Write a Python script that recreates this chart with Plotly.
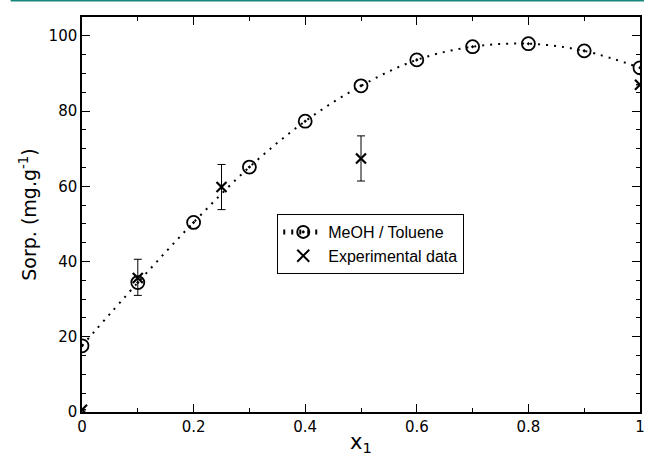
import plotly.graph_objects as go

# Model curve: MeOH / Toluene
x_model = [0.0, 0.1, 0.2, 0.3, 0.4, 0.5, 0.6, 0.7, 0.8, 0.9, 1.0]
y_model = [17.6, 34.4, 50.4, 65.1, 77.3, 86.7, 93.6, 97.1, 97.9, 96.0, 91.5]

# Experimental data
x_exp = [0.0, 0.1, 0.25, 0.5, 1.0]
y_exp = [0.6, 35.6, 59.8, 67.4, 87.0]
err_plus = [0.0, 5.0, 6.0, 6.0, 0.0]
err_minus = [0.0, 4.6, 6.0, 6.0, 0.0]

fig = go.Figure()
fig.add_trace(go.Scatter(
    x=x_model, y=y_model, mode="lines+markers", name="MeOH / Toluene",
    line=dict(color="black", width=2, dash="2px,6px", shape="spline", smoothing=1.0),
    marker=dict(symbol="circle-open-dot", size=13, color="black", line=dict(width=1.8)),
))
fig.add_trace(go.Scatter(
    x=x_exp, y=y_exp, mode="markers", name="Experimental data",
    marker=dict(symbol="x-thin", size=10, color="black", line=dict(width=2.2, color="black")),
    error_y=dict(type="data", array=err_plus, arrayminus=err_minus, visible=True,
                 color="black", thickness=1, width=4),
))

axis_common = dict(
    showline=True, linecolor="black", linewidth=1.5, mirror="allticks",
    ticks="inside", ticklen=8, tickwidth=1, tickcolor="black",
    showgrid=False, zeroline=False,
    tickfont=dict(family="DejaVu Sans", size=15, color="black"),
)

fig.update_xaxes(
    range=[0, 1], tickvals=[0, 0.2, 0.4, 0.6, 0.8, 1.0],
    ticktext=["0", "0.2", "0.4", "0.6", "0.8", "1"],
    minor=dict(ticks="inside", tickvals=[0.1, 0.3, 0.5, 0.7, 0.9], ticklen=4, tickcolor="black"),
    title=dict(text="x<sub>1</sub>", font=dict(family="DejaVu Sans", size=21, color="black"), standoff=2),
    **axis_common,
)
fig.update_yaxes(
    range=[0, 105], dtick=20,
    minor=dict(ticks="inside", dtick=5, ticklen=4, tickcolor="black"),
    title=dict(text="Sorp. (mg.g<sup>-1</sup>)", font=dict(family="DejaVu Sans", size=19, color="black"), standoff=7),
    **axis_common,
)

fig.update_layout(
    width=649, height=456,
    margin=dict(l=82, r=4, t=17, b=44),
    paper_bgcolor="white", plot_bgcolor="white",
    showlegend=True,
    legend=dict(
        x=(279 - 82) / 563, y=(412 - 214) / 395, xanchor="left", yanchor="top",
        bgcolor="white", bordercolor="black", borderwidth=1,
        font=dict(family="Liberation Sans", size=16, color="black"),
        tracegroupgap=0, itemsizing="constant", itemwidth=40,
    ),
    shapes=[dict(type="line", xref="paper", yref="paper",
                 x0=(10 - 82) / 563, x1=(649 - 82) / 563,
                 y0=(412 - 0.5) / 395, y1=(412 - 0.5) / 395,
                 line=dict(color="#16877a", width=2))],
)

fig.write_html("out.html", config={"displayModeBar": False},
               post_script="document.body.style.margin='0';document.body.style.overflow='hidden';")
